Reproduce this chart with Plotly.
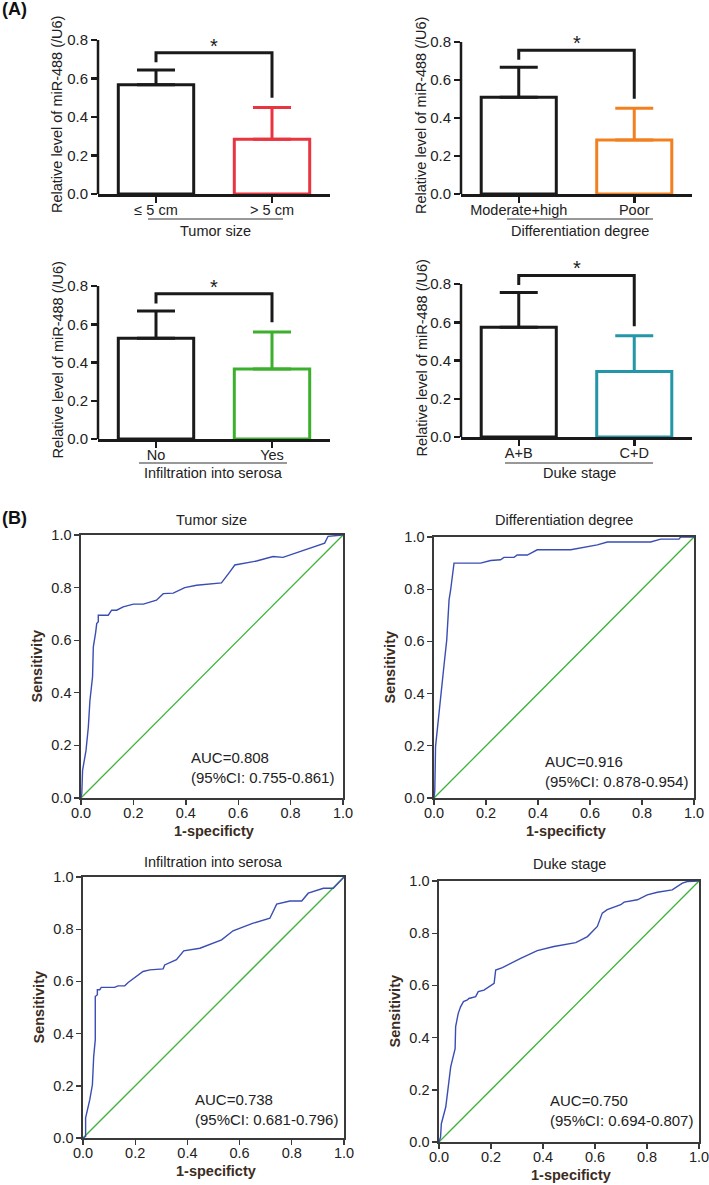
import plotly.graph_objects as go

W, H = 709, 1185
FONT = "Arial, 'Liberation Sans', Helvetica, sans-serif"
TXT = "#222222"
BROWN = "#3b2c22"

# ---------------- Panel A data (bar charts) ----------------
tumor_cats = ["≤ 5 cm", "> 5 cm"]
tumor_mean = [0.567, 0.284]
tumor_err = [0.077, 0.166]

diff_cats = ["Moderate+high", "Poor"]
diff_mean = [0.509, 0.284]
diff_err = [0.158, 0.167]

serosa_cats = ["No", "Yes"]
serosa_mean = [0.527, 0.366]
serosa_err = [0.142, 0.194]

duke_cats = ["A+B", "C+D"]
duke_mean = [0.574, 0.342]
duke_err = [0.181, 0.187]

bar_groups = ["Tumor size", "Differentiation degree", "Infiltration into serosa", "Duke stage"]
bar_colors = ["#e8353f", "#f28020", "#3cb02c", "#2396a8"]
bar_ticks = [0.0, 0.2, 0.4, 0.6, 0.8]
bar_ytitle = "Relative level of miR-488 (/U6)"

# ---------------- Panel B data (ROC curves) ----------------
tumor_fpr = [0.0, 0.003, 0.006, 0.019, 0.028, 0.034, 0.044, 0.047, 0.056, 0.060, 0.066, 0.066,
             0.104, 0.117, 0.136, 0.161, 0.200, 0.238, 0.288, 0.301, 0.314, 0.352, 0.396, 0.441,
             0.536, 0.568, 0.587, 0.670, 0.733, 0.771, 0.873, 0.930, 0.943, 1.0]
tumor_tpr = [0.0, 0.016, 0.105, 0.180, 0.270, 0.370, 0.460, 0.574, 0.630, 0.663, 0.670, 0.695,
             0.695, 0.714, 0.714, 0.727, 0.737, 0.737, 0.752, 0.764, 0.777, 0.779, 0.800, 0.809,
             0.818, 0.860, 0.886, 0.901, 0.918, 0.915, 0.950, 0.969, 0.995, 1.0]

diff_fpr = [0.0, 0.003, 0.006, 0.019, 0.038, 0.049, 0.058, 0.064, 0.071, 0.077, 0.179, 0.218,
            0.256, 0.269, 0.308, 0.320, 0.359, 0.397, 0.526, 0.628, 0.667, 0.833, 0.872, 0.942,
            0.949, 1.0]
diff_tpr = [0.0, 0.026, 0.198, 0.313, 0.504, 0.606, 0.760, 0.797, 0.862, 0.900, 0.900, 0.910,
            0.913, 0.922, 0.922, 0.931, 0.931, 0.951, 0.951, 0.970, 0.981, 0.981, 0.992, 0.992,
            1.0, 1.0]

serosa_fpr = [0.0, 0.010, 0.010, 0.026, 0.036, 0.041, 0.047, 0.047, 0.055, 0.055, 0.064, 0.070,
              0.121, 0.134, 0.160, 0.173, 0.230, 0.256, 0.307, 0.313, 0.358, 0.386, 0.448, 0.531,
              0.575, 0.652, 0.716, 0.742, 0.793, 0.838, 0.863, 0.921, 0.959, 1.0]
serosa_tpr = [0.0, 0.006, 0.077, 0.147, 0.204, 0.313, 0.376, 0.542, 0.549, 0.568, 0.568, 0.577,
              0.577, 0.583, 0.583, 0.596, 0.638, 0.644, 0.648, 0.663, 0.683, 0.717, 0.727, 0.759,
              0.794, 0.823, 0.842, 0.896, 0.908, 0.908, 0.938, 0.957, 0.957, 1.0]

duke_fpr = [0.0, 0.006, 0.009, 0.026, 0.045, 0.062, 0.064, 0.074, 0.083, 0.094, 0.109, 0.115,
            0.141, 0.151, 0.173, 0.212, 0.218, 0.244, 0.314, 0.378, 0.442, 0.526, 0.571, 0.609,
            0.628, 0.647, 0.699, 0.712, 0.763, 0.801, 0.840, 0.897, 0.936, 0.955, 1.0]
duke_tpr = [0.0, 0.019, 0.070, 0.134, 0.288, 0.358, 0.442, 0.493, 0.518, 0.538, 0.544, 0.550,
            0.557, 0.576, 0.582, 0.608, 0.659, 0.668, 0.704, 0.733, 0.749, 0.764, 0.787, 0.826,
            0.877, 0.890, 0.909, 0.919, 0.928, 0.947, 0.957, 0.966, 0.992, 0.998, 1.0]

chance = [0.0, 1.0]
roc_titles = ["Tumor size", "Differentiation degree", "Infiltration into serosa", "Duke stage"]
auc_values = ["0.808", "0.916", "0.738", "0.750"]
auc_ci = ["0.755-0.861", "0.878-0.954", "0.681-0.796", "0.694-0.807"]
roc_ticks = [0.0, 0.2, 0.4, 0.6, 0.8, 1.0]

# ---------------- layout positions (pixels) ----------------
A_pos = [
    dict(x0=98, x1=330, y0=194, y8=40, ul=(148, 283), ul_y=219, lab_y=231, tx=57),
    dict(x0=461, x1=692, y0=194, y8=42, ul=(507, 653), ul_y=219, lab_y=231, tx=421),
    dict(x0=98, x1=330, y0=439, y8=286, ul=(139, 287), ul_y=463, lab_y=473, tx=57),
    dict(x0=461, x1=692, y0=437, y8=284, ul=(505, 653), ul_y=463, lab_y=473, tx=421),
]
B_pos = [
    dict(x0=81, x1=343, yb=798, yt=535, ty=520, ax=0.412, ay=0.116),
    dict(x0=434, x1=694, yb=798, yt=537, ty=520, ax=0.419, ay=0.103),
    dict(x0=83, x1=344, yb=1138, yt=877, ty=862, ax=0.420, ay=0.109),
    dict(x0=439, x1=699, yb=1142, yt=881, ty=864, ax=0.419, ay=0.119),
]


def fx(px):
    return px / W


def fy(py):
    return 1 - py / H


fig = go.Figure()
layout = dict(
    template="none",
    width=W, height=H, margin=dict(l=0, r=0, t=0, b=0, pad=0, autoexpand=False),
    paper_bgcolor="white", plot_bgcolor="rgba(0,0,0,0)",
    showlegend=False, barmode="overlay",
    font=dict(family=FONT, size=14.5, color=TXT),
)
shapes = []
annotations = []

YMAX = 0.9
bar_data = [
    (tumor_cats, tumor_mean, tumor_err),
    (diff_cats, diff_mean, diff_err),
    (serosa_cats, serosa_mean, serosa_err),
    (duke_cats, duke_mean, duke_err),
]

for i, ((cats, means, errs), pos) in enumerate(zip(bar_data, A_pos)):
    n = i + 1
    xa = "x" if n == 1 else f"x{n}"
    ya = "y" if n == 1 else f"y{n}"
    colors = ["#1a1a1a", bar_colors[i]]
    for c, m, e, col in zip(cats, means, errs, colors):
        fig.add_trace(go.Bar(
            x=[c], y=[m], width=0.65, xaxis=xa, yaxis=ya,
            marker=dict(color="rgba(0,0,0,0)", line=dict(color=col, width=3)),
            error_y=dict(type="data", symmetric=False, array=[e], arrayminus=[0],
                         color=col, thickness=3, width=19),
            hoverinfo="skip",
        ))
    # significance bracket computed from the data
    left_top = means[0] + errs[0]
    right_top = means[1] + errs[1]
    leg_l = left_top + 0.04
    top = leg_l + 0.05
    leg_r = right_top + 0.05
    fig.add_trace(go.Scatter(
        x=[cats[0], cats[0], cats[1], cats[1]], y=[leg_l, top, top, leg_r],
        mode="lines", line=dict(color="#1a1a1a", width=3), xaxis=xa, yaxis=ya,
        hoverinfo="skip",
    ))
    annotations.append(dict(text="*", x=0.5, xref=f"{xa} domain", y=top, yref=ya,
                            yanchor="bottom", showarrow=False, yshift=-6,
                            font=dict(size=20, color="#1a1a1a")))
    y0p, y8p = pos["y0"], pos["y8"]
    ytop = y0p - (y0p - y8p) * YMAX / 0.8
    layout[f"xaxis{'' if n == 1 else n}"] = dict(
        domain=[fx(pos["x0"]), fx(pos["x1"])], anchor=ya, type="category",
        categoryorder="array", categoryarray=cats, range=[-0.5, 1.5],
        showline=True, linecolor="#1a1a1a", linewidth=2.5, ticks="outside",
        ticklen=6, tickwidth=2.5, tickcolor="#1a1a1a", showgrid=False, zeroline=False,
        tickfont=dict(size=14.5, color=TXT), fixedrange=True, automargin=False,
        ticklabelstandoff=-5,
    )
    layout[f"yaxis{'' if n == 1 else n}"] = dict(
        domain=[fy(y0p), fy(ytop)], anchor=xa, range=[0, YMAX],
        tickvals=bar_ticks, ticktext=[f"{v:.1f}" for v in bar_ticks],
        showline=False, ticks="outside", ticklen=6, tickwidth=2.5, tickcolor="#1a1a1a",
        showgrid=False, zeroline=False, tickfont=dict(size=15, color=TXT), fixedrange=True,
        automargin=False,
    )
    # y axis line only up to 0.8
    shapes.append(dict(type="line", xref=f"{xa} domain", yref=ya, x0=0, x1=0,
                       y0=0, y1=bar_ticks[-1], line=dict(color="#1a1a1a", width=2.5)))
    # group underline and label
    u0 = (pos["ul"][0] - pos["x0"]) / (pos["x1"] - pos["x0"])
    u1 = (pos["ul"][1] - pos["x0"]) / (pos["x1"] - pos["x0"])
    shapes.append(dict(type="line", xref=f"{xa} domain", yref="paper", x0=u0, x1=u1,
                       y0=fy(pos["ul_y"]), y1=fy(pos["ul_y"]),
                       line=dict(color="#333333", width=1.2)))
    annotations.append(dict(text=bar_groups[i], xref=f"{xa} domain", x=(u0 + u1) / 2,
                            yref="paper", y=fy(pos["lab_y"]), showarrow=False,
                            xanchor="center", yanchor="middle",
                            font=dict(size=14.5, color=TXT)))
    annotations.append(dict(text=bar_ytitle, xref="paper", x=fx(pos["tx"]),
                            yref="paper", y=fy((y0p + y8p) / 2 - 2), textangle=-90,
                            showarrow=False, xanchor="center", yanchor="middle",
                            font=dict(size=14.5, color=TXT)))

roc_data = [
    (tumor_fpr, tumor_tpr),
    (diff_fpr, diff_tpr),
    (serosa_fpr, serosa_tpr),
    (duke_fpr, duke_tpr),
]

for j, ((fpr, tpr), pos) in enumerate(zip(roc_data, B_pos)):
    n = j + 5
    xa, ya = f"x{n}", f"y{n}"
    fig.add_trace(go.Scatter(x=chance, y=chance, mode="lines",
                             line=dict(color="#3db33a", width=1.3),
                             xaxis=xa, yaxis=ya, hoverinfo="skip"))
    fig.add_trace(go.Scatter(x=fpr, y=tpr, mode="lines",
                             line=dict(color="#3a4db3", width=1.4),
                             xaxis=xa, yaxis=ya, hoverinfo="skip"))
    common = dict(range=[0, 1], tickvals=roc_ticks, ticktext=[f"{v:.1f}" for v in roc_ticks],
                  showline=True, mirror=True, linecolor="#3a3a3a", linewidth=1.6,
                  ticks="outside", ticklen=5, tickwidth=1.4, tickcolor="#3a3a3a",
                  showgrid=False, zeroline=False, tickfont=dict(size=14.5, color=TXT),
                  fixedrange=True, automargin=False, ticklabeloverflow="allow")
    layout[f"xaxis{n}"] = dict(domain=[fx(pos["x0"]), fx(pos["x1"])], anchor=ya,
                               ticklabelstandoff=-4, **common)
    layout[f"yaxis{n}"] = dict(domain=[fy(pos["yb"]), fy(pos["yt"])], anchor=xa, **common)
    annotations.append(dict(text=roc_titles[j], xref="paper", x=fx((pos["x0"] + pos["x1"]) / 2),
                            yref="paper", y=fy(pos["ty"]), showarrow=False,
                            xanchor="center", yanchor="middle",
                            font=dict(size=14.5, color=TXT)))
    annotations.append(dict(text="<b>Sensitivity</b>", xref="paper", x=fx(pos["x0"] - 45),
                            yref="paper", y=fy((pos["yb"] + pos["yt"]) / 2), textangle=-90,
                            showarrow=False, xanchor="center", yanchor="middle",
                            font=dict(size=14.5, color=BROWN)))
    annotations.append(dict(text="<b>1-specificty</b>", xref="paper",
                            x=fx((pos["x0"] + pos["x1"]) / 2 + 2),
                            yref="paper", y=fy(pos["yb"] + 33), showarrow=False,
                            xanchor="center", yanchor="middle",
                            font=dict(size=14.5, color=BROWN)))
    annotations.append(dict(text=f"AUC={auc_values[j]}<br>(95%CI: {auc_ci[j]})",
                            xref=f"{xa} domain", x=pos["ax"], yref=f"{ya} domain", y=pos["ay"],
                            showarrow=False, xanchor="left", yanchor="middle", align="left",
                            font=dict(size=15, color=TXT)))

annotations.append(dict(text="<b>(A)</b>", xref="paper", x=0, yref="paper", y=fy(9),
                        xanchor="left", yanchor="middle", showarrow=False,
                        font=dict(size=18, color="#111111")))
annotations.append(dict(text="<b>(B)</b>", xref="paper", x=0, yref="paper", y=fy(518),
                        xanchor="left", yanchor="middle", showarrow=False,
                        font=dict(size=18, color="#111111")))

layout["shapes"] = shapes
layout["annotations"] = annotations
fig.update_layout(**layout)
fig.write_html(
    "out.html",
    config={"displayModeBar": False, "staticPlot": True},
    post_script="document.body.style.margin='0';document.body.style.padding='0';"
                "document.documentElement.style.overflow='hidden';",
)
